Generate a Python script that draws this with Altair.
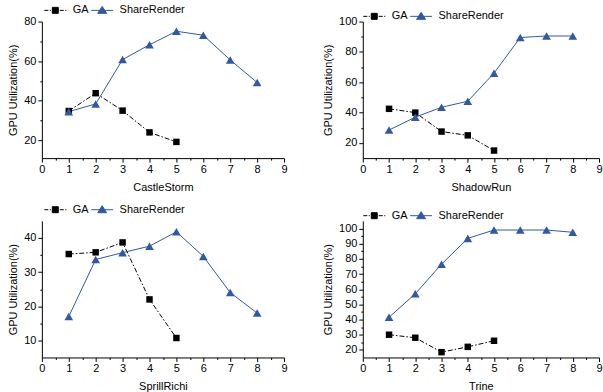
import altair as alt
import pandas as pd

# ---- data ----
games = ["CastleStorm", "ShadowRun", "SprillRichi", "Trine"]
series = ["GA", "ShareRender"]
x_ga = [1, 2, 3, 4, 5]
x_sr = [1, 2, 3, 4, 5, 6, 7, 8]

castle_ga = [34.8, 43.8, 35.0, 24.0, 19.2]
castle_sr = [34.5, 38.4, 60.8, 68.3, 75.1, 73.1, 60.6, 49.2]
shadow_ga = [42.5, 40.0, 27.5, 25.0, 15.0]
shadow_sr = [28.5, 37.0, 43.5, 47.5, 66.0, 89.5, 90.5, 90.5]
sprill_ga = [35.3, 35.8, 38.7, 22.0, 10.7]
sprill_sr = [17.0, 33.7, 35.7, 37.6, 41.8, 34.6, 24.0, 18.0]
trine_ga = [30.0, 28.0, 18.5, 22.0, 26.0]
trine_sr = [41.5, 57.0, 76.5, 93.5, 99.0, 99.0, 99.0, 97.5]

x_ticks = [i * 0.5 for i in range(19)]

# ---- styling ----
FONT = "Liberation Sans"
colors = ["#000000", "#3058a8"]
GA_DASH = [5, 2, 1.5, 2]
GA_PATH = "M-1,0H-0.333M-0.083,0H0.083M0.333,-0.5H1.333V0.5H0.333ZM1.583,0H2.25M2.5,0H2.667"
SR_PATH = "M-1,0H2.667M0.083,0.5L0.833,-0.667L1.583,0.5Z"


def y_axis(values, major):
    return alt.Axis(
        title="GPU Utilization(%)", values=values, grid=False,
        labelExpr=f"datum.value % {major} == 0 ? datum.label : ''",
        tickSize={"condition": {"test": f"datum.value % {major} != 0", "value": 2}, "value": 4},
        labelPadding=2, titlePadding=5, labelOverlap=False,
    )


def x_axis(title):
    return alt.Axis(
        title=title, values=x_ticks, grid=False,
        labelExpr="datum.value % 1 == 0 ? format(datum.value, 'd') : ''",
        tickSize={"condition": {"test": "datum.value % 1 != 0", "value": 2}, "value": 4},
        labelPadding=1, titlePadding=7, labelFlush=False, labelOverlap=False,
    )


def panel(game, ga_vals, sr_vals, ydom, yvals, major, leg_x, leg_y, width, height):
    df = pd.DataFrame({
        "x": x_ga + x_sr,
        "y": ga_vals + sr_vals,
        "s": [series[0]] * len(ga_vals) + [series[1]] * len(sr_vals),
    })
    base = alt.Chart(df).encode(
        x=alt.X("x:Q", scale=alt.Scale(domain=[0, 9], nice=False, zero=False), axis=x_axis(game)),
        y=alt.Y("y:Q", scale=alt.Scale(domain=ydom, nice=False, zero=False), axis=y_axis(yvals, major)),
    )
    is_ga = alt.datum.s == series[0]
    is_sr = alt.datum.s == series[1]
    line_ga = base.mark_line(strokeWidth=1, color=colors[0], strokeDash=GA_DASH).transform_filter(is_ga)
    line_sr = base.mark_line(strokeWidth=1, color=colors[1]).transform_filter(is_sr)
    pts_ga = base.mark_point(shape="square", filled=True, opacity=1, size=42, color=colors[0]).transform_filter(is_ga)
    pts_sr = base.mark_point(shape="triangle-up", filled=True, opacity=1, size=76, color=colors[1]).transform_filter(is_sr)
    leg = alt.Legend(
        orient="none", legendX=leg_x, legendY=leg_y, direction="horizontal", title=None,
        symbolSize=144, symbolStrokeWidth=1, symbolOpacity=1, labelOffset=16, columnPadding=0,
        labelFont=FONT, labelFontSize=11, labelColor="black", padding=0,
    )
    legend_layer = base.mark_point(filled=True, opacity=0).encode(
        fill=alt.Fill("s:N", scale=alt.Scale(domain=series, range=colors), legend=leg),
        stroke=alt.Stroke("s:N", scale=alt.Scale(domain=series, range=colors), legend=leg),
        shape=alt.Shape("s:N", scale=alt.Scale(domain=series, range=[GA_PATH, SR_PATH]), legend=leg),
    )
    return alt.layer(line_ga, line_sr, pts_ga, pts_sr, legend_layer).properties(width=width, height=height)


p1 = panel(games[0], castle_ga, castle_sr, [11, 80], list(range(20, 81, 10)), 20, 2, -18, 243, 137)
p2 = panel(games[1], shadow_ga, shadow_sr, [10, 100], list(range(20, 101, 10)), 20, 0, -12, 237, 137)
p3 = panel(games[2], sprill_ga, sprill_sr, [5, 45], list(range(10, 41, 5)), 10, 2, -18, 243, 137)
p4 = panel(games[3], trine_ga, trine_sr, [15, 105], list(range(20, 101, 5)), 10, 0, -12, 237, 137)

chart = alt.concat(
    p1, p2, p3, p4, columns=2, spacing={"row": 63, "column": 79}, bounds="flush",
    padding={"top": 3, "left": 7, "right": 0, "bottom": 0},
).resolve_scale(
    x="independent", y="independent", fill="independent", stroke="independent", shape="independent",
).resolve_axis(x="independent", y="independent").resolve_legend(
    fill="independent", stroke="independent", shape="independent",
).configure_axis(
    domainColor="black", tickColor="black", labelColor="black", titleColor="black",
    labelFont=FONT, titleFont=FONT, labelFontSize=11, titleFontSize=11, titleFontWeight="normal",
    domainWidth=1, tickWidth=1,
).configure_view(stroke=None)

chart.save("out.html", embed_options={"renderer": "svg", "actions": False})
